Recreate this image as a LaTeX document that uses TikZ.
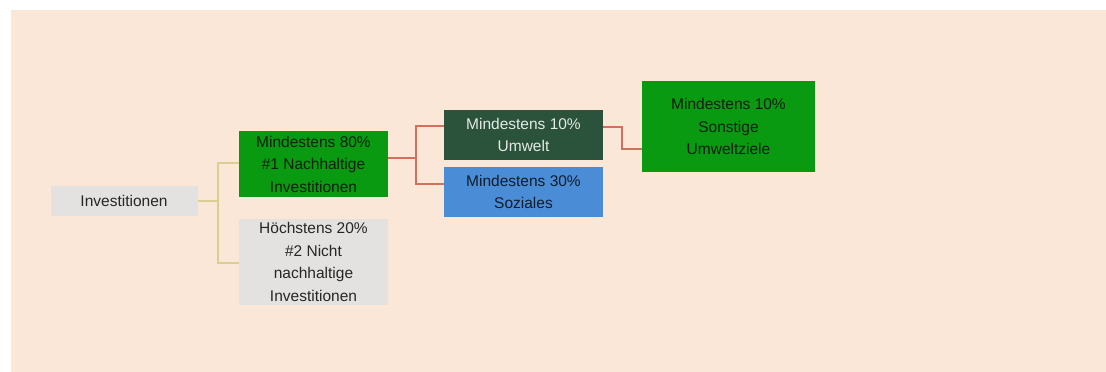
\documentclass[tikz,border=0pt]{standalone}
\usepackage{fontspec}
\setmainfont{Liberation Sans}
\usepackage{tikz}
\usetikzlibrary{positioning}
\definecolor{invbg}{HTML}{FAE7D7}
\definecolor{invgray}{HTML}{E4E2E0}
\definecolor{invgreen}{HTML}{0A9A12}
\definecolor{invdark}{HTML}{2B523A}
\definecolor{invblue}{HTML}{4A8DD6}
\definecolor{involive}{HTML}{D9CF93}
\definecolor{invred}{HTML}{D2705C}

\begin{document}
\begin{tikzpicture}[x=1pt, y=-1pt,
  box/.style={inner sep=0pt, align=center, text=black!85,
              font=\fontsize{15.5}{22.5}\selectfont},
  graybox/.style={box, fill=invgray},
  greenbox/.style={box, fill=invgreen, text=black!80!invgreen},
  darkbox/.style={box, fill=invdark, text=white!88!invdark},
  bluebox/.style={box, fill=invblue, text=black!80!invblue},
  olivelink/.style={draw=involive, line width=2pt},
  redlink/.style={draw=invred, line width=2pt},
]
  % Background.
  \useasboundingbox (0,0) rectangle (1106,372);
  \fill[invbg] (11,10) rectangle (1106,372);

  % Root and first split.
  \node[graybox, minimum width=147pt, minimum height=30pt] (inv) at (124,201) {Investitionen};
  \node[greenbox, minimum width=149pt, minimum height=66pt] (nh) at (313.5,164)
       {Mindestens 80\%\\\#1 Nachhaltige\\Investitionen};
  \node[graybox, minimum width=149pt, minimum height=86pt] (nn) at (313.5,262)
       {Höchstens 20\%\\\#2 Nicht\\nachhaltige\\Investitionen};
  \coordinate (j1) at (218,201);
  \draw[olivelink] (inv.east) -- (j1) |- (nn.west |- 0,163);
  \draw[olivelink] (j1) |- (nn.west |- 0,263);

  % Second split.
  \node[darkbox, minimum width=159pt, minimum height=50pt] (umw) at (523.5,135)
       {Mindestens 10\%\\Umwelt};
  \node[bluebox, minimum width=159pt, minimum height=50pt] (soz) at (523.5,192)
       {Mindestens 30\%\\Soziales};
  \coordinate (j2) at (416,158);
  \draw[redlink] (nh.east |- j2) -- (j2) |- (umw.west |- 0,126);
  \draw[redlink] (j2) |- (soz.west |- 0,184);

  % Other environmental goals.
  \node[greenbox, minimum width=173pt, minimum height=91pt] (son) at (728.5,126.5)
       {Mindestens 10\%\\Sonstige\\Umweltziele};
  \coordinate (j3) at (622,127);
  \draw[redlink] (umw.east |- j3) -- (j3) |- (son.west |- 0,149);

\end{tikzpicture}
\end{document}
